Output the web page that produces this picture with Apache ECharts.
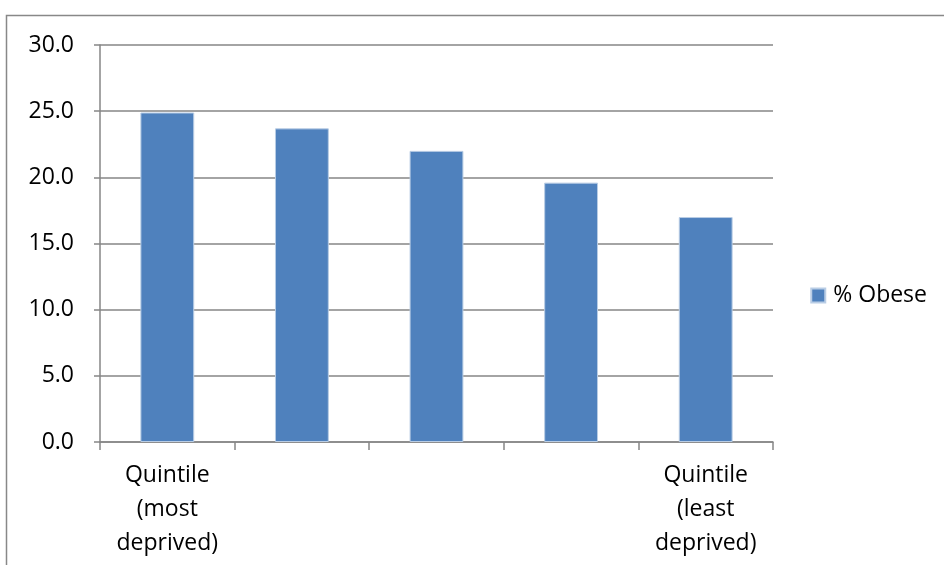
<!DOCTYPE html>
<html><head><meta charset="utf-8">
<script src="https://cdn.jsdelivr.net/npm/echarts@6/dist/echarts.min.js"></script>
<style>html,body{margin:0;padding:0;background:#fff}#c{width:944px;height:565px}</style>
</head><body><div id="c"></div>
<script>
var categories = ['Quintile\n(most\ndeprived)', '', '', '', 'Quintile\n(least\ndeprived)'];
var seriesName = '% Obese';
var values = [24.9, 23.7, 22.0, 19.6, 17.0];
var yTicks = [0, 5, 10, 15, 20, 25, 30];

var chart = echarts.init(document.getElementById('c'));
var font = 'Open Sans, Liberation Sans, sans-serif';
chart.setOption({
  animation: false,
  graphic: [{type:'rect', shape:{x:6.5, y:15.5, width:1000, height:700}, style:{fill:'none', stroke:'#888', lineWidth:1.5}, silent:true}],
  grid: {left:100, right:171, top:45, bottom:123, containLabel:false},
  legend: {
    right: 12, top: 279, orient:'vertical',
    itemWidth:14, itemHeight:14, icon:'rect', itemGap:6,
    textStyle:{fontFamily:font, fontSize:23, color:'#000', padding:[0,0,0,3]},
    data:[seriesName]
  },
  xAxis: {
    type:'category', data:categories,
    axisLine:{lineStyle:{color:'#868686', width:1.5}},
    axisTick:{show:true, length:8, lineStyle:{color:'#868686', width:1.5}},
    axisLabel:{fontFamily:font, fontSize:23, color:'#000', lineHeight:34, margin:16, interval:0}
  },
  yAxis: {
    type:'value', min:yTicks[0], max:yTicks[yTicks.length-1], interval:5,
    axisLine:{show:true, lineStyle:{color:'#868686', width:1.5}},
    axisTick:{show:true, length:6, lineStyle:{color:'#868686', width:1.5}},
    splitLine:{lineStyle:{color:'#868686', width:1.5}},
    axisLabel:{fontFamily:font, fontSize:23, color:'#000', margin:26, formatter:function(v){return v.toFixed(1);}}
  },
  series: [{
    name: seriesName, type:'bar', data: values, barWidth:'40%',
    itemStyle:{color:'#4F81BD', borderColor:'#B9CDE5', borderWidth:1}
  }]
});
</script></body></html>
